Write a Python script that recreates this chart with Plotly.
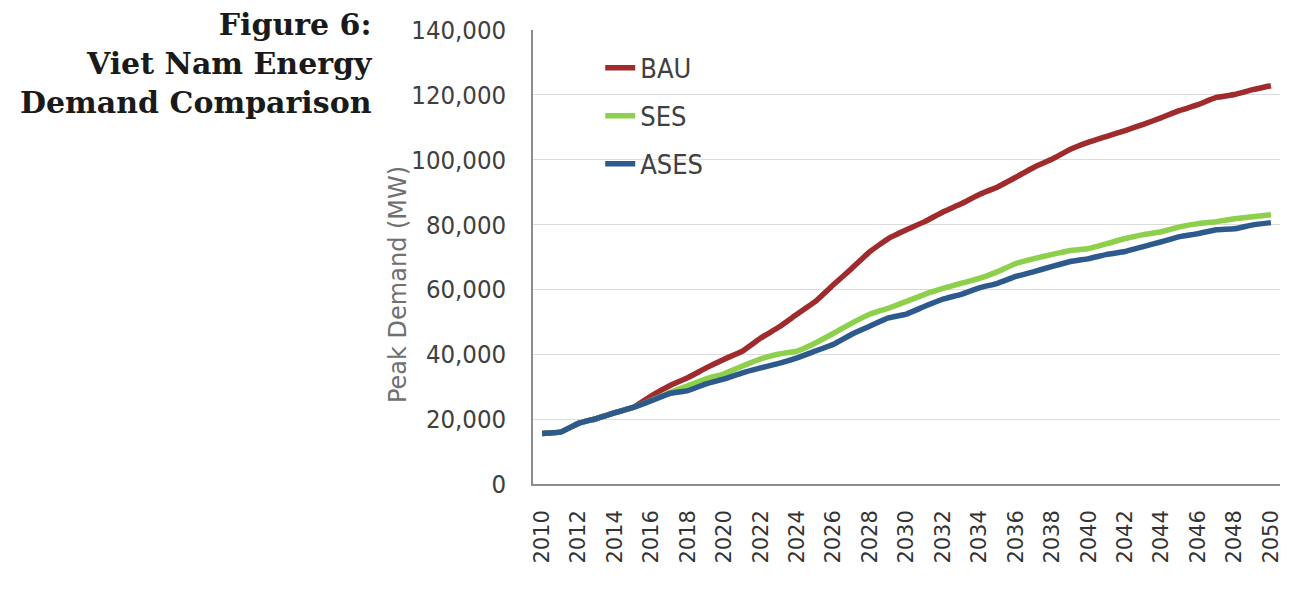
import plotly.graph_objects as go

years = list(range(2010, 2051))

bau = [15600, 16000, 18700, 20200, 22000, 23600, 27200, 30300, 32800, 35800,
       38500, 41000, 45000, 48400, 52400, 56300, 61500, 66500, 71700, 75700,
       78400, 80900, 83900, 86400, 89300, 91600, 94600, 97700, 100200, 103200,
       105400, 107200, 109000, 110900, 113000, 115200, 117000, 119200, 120100, 121600,
       122800]

ses = [15600, 16000, 18700, 20200, 22000, 23600, 25800, 28200, 30300, 32400,
       34000, 36400, 38600, 40100, 41000, 43500, 46500, 49600, 52400, 54200,
       56300, 58500, 60300, 61900, 63400, 65500, 68000, 69500, 70800, 72000,
       72600, 74100, 75700, 76900, 77800, 79300, 80300, 80900, 81800, 82400,
       83000]

ases = [15600, 16000, 18700, 20200, 22000, 23600, 25700, 27900, 28800, 30900,
        32400, 34300, 35800, 37200, 38900, 41000, 43100, 46200, 48700, 51200,
        52400, 54800, 57000, 58500, 60500, 61900, 64000, 65500, 67100, 68600,
        69500, 70800, 71700, 73200, 74700, 76300, 77200, 78400, 78700, 79900,
        80600]

series = [("BAU", bau, "#a02b2d"), ("SES", ses, "#8dd04b"), ("ASES", ases, "#2c5a8d")]
tick_years = list(range(2010, 2051, 2))

narrow = "DejaVu Sans Condensed, Liberation Sans Narrow, Arial Narrow, sans-serif"

fig = go.Figure()
for name, vals, col in series:
    fig.add_trace(go.Scatter(
        x=years, y=vals, mode="lines", name=name, legendgroup=name,
        line=dict(color=col, width=5.5, shape="spline", smoothing=0.3),
    ))

# page body adds an 8px offset, so the figure is 8px smaller than the window
fig.update_layout(
    width=1282, height=597,
    margin=dict(l=525, r=7, t=19, b=121),
    paper_bgcolor="white", plot_bgcolor="white",
    showlegend=True,
    legend=dict(x=0.09, y=0.97, xanchor="left", yanchor="top",
                font=dict(family=narrow, size=27, color="#404040"),
                tracegroupgap=10, bgcolor="rgba(0,0,0,0)"),
    xaxis=dict(range=[2009.5, 2050.5], tickvals=tick_years, tickangle=-90,
               showgrid=False, zeroline=False, showline=True, linecolor="#8c8c8c", linewidth=1.5,
               ticks="", ticklabelstandoff=16,
               tickfont=dict(family="DejaVu Sans, Verdana, sans-serif", size=21, color="#333333")),
    yaxis=dict(range=[0, 140000], tickvals=list(range(0, 140001, 20000)), tickformat=",",
               showgrid=True, gridcolor="#dcdcdc", gridwidth=1.2, zeroline=False,
               showline=True, linecolor="#8c8c8c", linewidth=1.5, ticks="", ticklabelstandoff=20,
               tickfont=dict(family=narrow, size=25.5, color="#404040")),
    annotations=[
        dict(text="Figure 6:<br>Viet Nam Energy<br>Demand Comparison", xref="paper", yref="paper",
             x=-0.213, y=1.053, xanchor="right", yanchor="top", align="right", showarrow=False,
             borderpad=0,
             font=dict(family="DejaVu Serif, Georgia, serif", size=30, color="#1a1a1a", weight="bold")),
        dict(text="Peak Demand (MW)", xref="paper", yref="paper", x=-0.181, y=0.44,
             xanchor="center", yanchor="middle", textangle=-90, showarrow=False,
             font=dict(family="DejaVu Sans, Verdana, sans-serif", size=24, color="#707070")),
    ],
)

fig.write_html("out.html")
